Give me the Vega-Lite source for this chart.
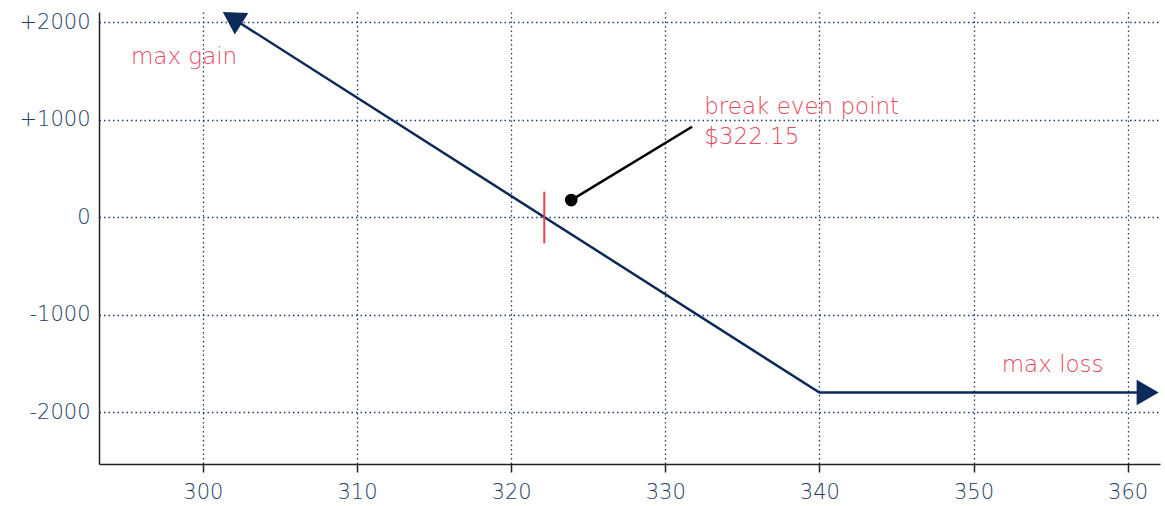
{
  "$schema": "https://vega.github.io/schema/vega-lite/v6.json",
  "width": 1061,
  "height": 452,
  "padding": {"left": 99, "top": 12, "right": 5, "bottom": 42},
  "autosize": {"type": "none"},
  "background": "white",
  "config": {
    "view": {"stroke": null},
    "font": "DejaVu Sans",
    "axis": {
      "labelFont": "DejaVu Sans",
      "labelFontWeight": 200,
      "labelFontSize": 21,
      "labelColor": "#243f68",
      "domainColor": "#222222",
      "domainWidth": 1.5,
      "tickColor": "#222222",
      "tickWidth": 1.5,
      "grid": true,
      "gridColor": "#1f3f70",
      "gridDash": [1.5, 3],
      "gridWidth": 1.3,
      "title": null
    }
  },
  "datasets": {
    "payoff": [
      {"price": 301.9, "pl": 2042},
      {"price": 340, "pl": -1800},
      {"price": 361.4, "pl": -1800}
    ],
    "gainArrow": [{"price": 301.9, "pl": 2042}],
    "lossArrow": [{"price": 361.3, "pl": -1800}],
    "breakeven": [{"price": 322.15, "lo": -270, "hi": 260}],
    "pointer": [{"x1": 323.9, "y1": 174, "x2": 331.74, "y2": 926}],
    "dot": [{"price": 323.9, "pl": 174}],
    "labels": [
      {"price": 295.33, "pl": 1569, "text": "max gain"},
      {"price": 351.83, "pl": -1593, "text": "max loss"},
      {"price": 332.53, "pl": 1056, "text": "break even point"},
      {"price": 332.53, "pl": 749, "text": "$322.15"}
    ]
  },
  "encoding": {
    "x": {
      "type": "quantitative",
      "scale": {"domain": [293.26, 362.1], "nice": false, "zero": false},
      "axis": {"values": [300, 310, 320, 330, 340, 350, 360], "tickSize": 8, "labelPadding": 9, "format": "d"}
    },
    "y": {
      "type": "quantitative",
      "scale": {"domain": [-2533, 2103], "nice": false, "zero": false},
      "axis": {"values": [-2000, -1000, 0, 1000, 2000], "ticks": false, "labelPadding": 9, "labelExpr": "datum.value > 0 ? '+' + datum.value : '' + datum.value"}
    }
  },
  "layer": [
    {
      "data": {"name": "payoff"},
      "mark": {"type": "line", "color": "#0b2a57", "strokeWidth": 2.5},
      "encoding": {"x": {"field": "price"}, "y": {"field": "pl"}}
    },
    {
      "data": {"name": "gainArrow"},
      "mark": {"type": "point", "shape": "triangle-up", "angle": 302, "filled": true, "color": "#0b2a57", "size": 650, "opacity": 1},
      "encoding": {"x": {"field": "price"}, "y": {"field": "pl"}}
    },
    {
      "data": {"name": "lossArrow"},
      "mark": {"type": "point", "shape": "triangle-up", "angle": 90, "filled": true, "color": "#0b2a57", "size": 650, "opacity": 1},
      "encoding": {"x": {"field": "price"}, "y": {"field": "pl"}}
    },
    {
      "data": {"name": "breakeven"},
      "mark": {"type": "rule", "color": "#e0424f", "strokeWidth": 2},
      "encoding": {"x": {"field": "price"}, "y": {"field": "lo"}, "y2": {"field": "hi"}}
    },
    {
      "data": {"name": "pointer"},
      "mark": {"type": "rule", "color": "#000000", "strokeWidth": 2.5},
      "encoding": {"x": {"field": "x1"}, "y": {"field": "y1"}, "x2": {"field": "x2"}, "y2": {"field": "y2"}}
    },
    {
      "data": {"name": "dot"},
      "mark": {"type": "circle", "color": "#000000", "size": 160, "opacity": 1},
      "encoding": {"x": {"field": "price"}, "y": {"field": "pl"}}
    },
    {
      "data": {"name": "labels"},
      "mark": {"type": "text", "align": "left", "baseline": "alphabetic", "color": "#e64a60", "fontSize": 23, "font": "DejaVu Sans", "fontWeight": 200},
      "encoding": {"x": {"field": "price"}, "y": {"field": "pl"}, "text": {"field": "text"}}
    }
  ]
}
